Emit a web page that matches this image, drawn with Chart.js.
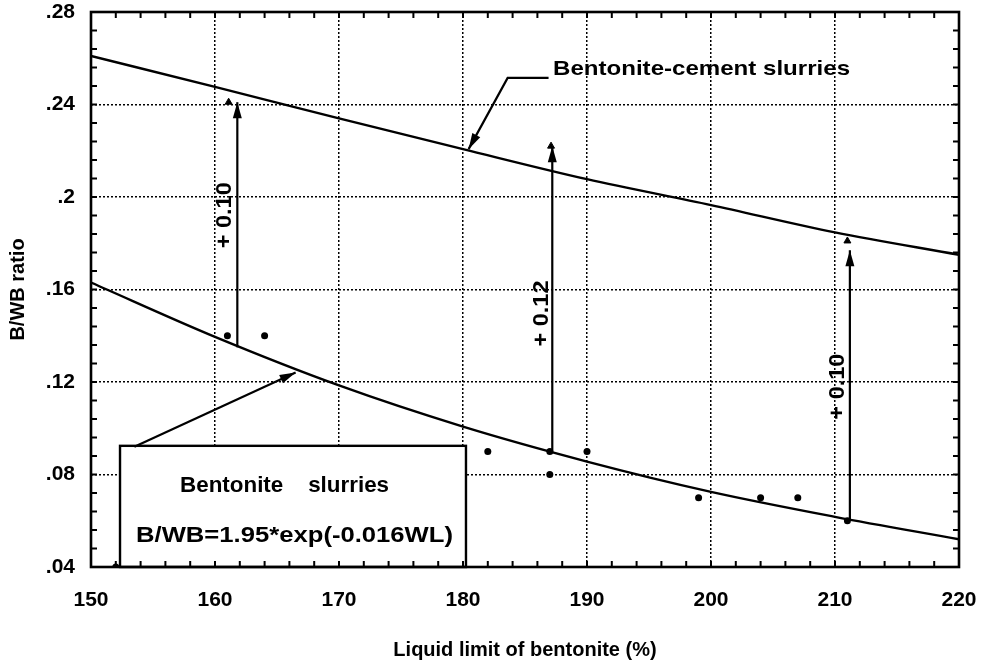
<!DOCTYPE html>
<html><head><meta charset="utf-8">
<script src="https://cdn.jsdelivr.net/npm/chart.js@4.4.1/dist/chart.umd.min.js"></script>
<style>html,body{margin:0;padding:0;background:#fff}</style>
</head><body>
<canvas id="c" width="986" height="663"></canvas>
<script>
// ---- data ----
const xTickValues = [150,160,170,180,190,200,210,220];
const xTickLabels = ['150','160','170','180','190','200','210','220'];
const yTickValues = [0.04,0.08,0.12,0.16,0.20,0.24,0.28];
const yTickLabels = ['.04','.08','.12','.16','.2','.24','.28'];

const curveLL = [150,160,170,180,190,200,210,220];
const cementSlurry = [0.261,0.2476,0.234,0.2207,0.2077,0.1965,0.1847,0.175];
const bentoniteSlurry = [0.163,0.1395,0.1185,0.1007,0.0856,0.0725,0.0617,0.052];

const measuredLL  = [152,161,164,182,187,187,190,199,204,207,211];
const measuredBWB = [0.04,0.14,0.14,0.09,0.09,0.08,0.09,0.07,0.07,0.07,0.06];

const cementLL  = [161.1,187.1,211.0];
const cementBWB = [0.241,0.222,0.181];

const shiftLL   = [161.8,187.2,211.2];
const shiftFrom = [0.135,0.09,0.06];
const shiftTo   = [0.241,0.222,0.177];
const shiftText = ['+ 0.10','+ 0.12','+ 0.10'];
const shiftTextLL  = [160.8,186.4,210.2];
const shiftTextBWB = [0.1921,0.1496,0.118];

const cementLeaderLL  = [186.9,183.6,180.45];
const cementLeaderBWB = [0.2515,0.2515,0.2207];
const slurryLeaderLL  = [153.5,166.5];
const slurryLeaderBWB = [0.092,0.1241];

const boxLL  = [152.34,180.24];
const boxBWB = [0.04,0.0924];

const noteText = ['Bentonite-cement slurries','Bentonite    slurries','B/WB=1.95*exp(-0.016WL)'];
const noteLL   = [187.26,157.18,153.63];
const noteBWB  = [0.2528,0.0724,0.0509];

// ---- styles ----
const FONT = '"Liberation Sans", Arial, sans-serif';
const style = {
  noteWidths: [297, 209, 317], noteSizes: [21, 22, 22],
  shiftWidth: 66, shiftSize: 22,
  minorX: 2, minorY: 0.008, tickLen: 6
};

Chart.defaults.font.family = FONT;
Chart.defaults.color = '#000';

const pts = (xs, ys) => xs.map((x, i) => ({x, y: ys[i]}));
const lineDs = (label, xs, ys, extra) => Object.assign({
  label, data: pts(xs, ys), showLine: true, borderColor: '#000', backgroundColor: '#000',
  borderWidth: 2.4, pointRadius: 0, fill: false
}, extra || {});

const datasets = [
  lineDs('Bentonite-cement slurries', curveLL, cementSlurry, {cubicInterpolationMode: 'monotone'}),
  lineDs('Bentonite slurries', curveLL, bentoniteSlurry, {cubicInterpolationMode: 'monotone'}),
  {label: 'measured', data: pts(measuredLL, measuredBWB), showLine: false, pointRadius: 3.5,
   pointBackgroundColor: '#000', pointBorderWidth: 0},
  {label: 'cement', data: pts(cementLL, cementBWB), showLine: false, pointStyle: 'triangle',
   pointRadius: 4, pointBackgroundColor: '#000', pointBorderColor: '#000', pointBorderWidth: 1},
];
shiftLL.forEach((x, i) => datasets.push(lineDs('shift' + i, [x, x], [shiftFrom[i], shiftTo[i]], {arrow: true, borderWidth: 2.2})));
datasets.push(lineDs('leaderCement', cementLeaderLL, cementLeaderBWB, {arrow: true, borderWidth: 2.2}));
datasets.push(lineDs('leaderSlurry', slurryLeaderLL, slurryLeaderBWB, {arrow: true, borderWidth: 2.2}));

function fitText(ctx, txt, px, py, width, size, rot, align, base) {
  ctx.save();
  ctx.font = 'bold ' + size + 'px ' + FONT;
  const m = ctx.measureText(txt).width;
  ctx.translate(px, py);
  if (rot) ctx.rotate(rot);
  ctx.scale(width / m, 1);
  ctx.textAlign = align; ctx.textBaseline = base;
  ctx.fillStyle = '#000';
  ctx.fillText(txt, 0, 0);
  ctx.restore();
}

const decor = {
  id: 'decor',
  beforeDatasetsDraw(chart) {
    const {ctx, scales: {x, y}} = chart;
    const l = x.getPixelForValue(boxLL[0]), r = x.getPixelForValue(boxLL[1]);
    const t = y.getPixelForValue(boxBWB[1]), b = y.getPixelForValue(boxBWB[0]);
    ctx.save();
    ctx.fillStyle = '#fff'; ctx.fillRect(l, t, r - l, b - t);
    ctx.strokeStyle = '#000'; ctx.lineWidth = 2.4; ctx.strokeRect(l, t, r - l, b - t);
    ctx.restore();
  },
  afterDatasetsDraw(chart) {
    const {ctx, scales: {x, y}} = chart;
    chart.data.datasets.forEach((ds, i) => {
      if (!ds.arrow) return;
      const d = chart.getDatasetMeta(i).data;
      const p1 = d[d.length - 2], p2 = d[d.length - 1];
      const a = Math.atan2(p2.y - p1.y, p2.x - p1.x);
      ctx.save(); ctx.translate(p2.x, p2.y); ctx.rotate(a);
      ctx.beginPath(); ctx.moveTo(0, 0); ctx.lineTo(-16, 4.5); ctx.lineTo(-16, -4.5); ctx.closePath();
      ctx.fillStyle = '#000'; ctx.fill(); ctx.restore();
    });
    noteText.forEach((t, i) => fitText(ctx, t, x.getPixelForValue(noteLL[i]), y.getPixelForValue(noteBWB[i]),
      style.noteWidths[i], style.noteSizes[i], 0, 'left', 'alphabetic'));
    shiftText.forEach((t, i) => fitText(ctx, t, x.getPixelForValue(shiftTextLL[i]), y.getPixelForValue(shiftTextBWB[i]),
      style.shiftWidth, style.shiftSize, -Math.PI / 2, 'center', 'middle'));
  },
  afterDraw(chart) {
    const {ctx, chartArea: ca, scales: {x, y}} = chart;
    ctx.save();
    ctx.strokeStyle = '#000'; ctx.lineWidth = 2;
    ctx.beginPath();
    const nx = Math.round((x.max - x.min) / style.minorX);
    for (let k = 0; k <= nx; k++) {
      const px = x.getPixelForValue(x.min + k * style.minorX);
      ctx.moveTo(px, ca.bottom); ctx.lineTo(px, ca.bottom - style.tickLen);
      ctx.moveTo(px, ca.top); ctx.lineTo(px, ca.top + style.tickLen);
    }
    const ny = Math.round((y.max - y.min) / style.minorY);
    for (let k = 0; k <= ny; k++) {
      const py = y.getPixelForValue(y.min + k * style.minorY);
      ctx.moveTo(ca.left, py); ctx.lineTo(ca.left + style.tickLen, py);
      ctx.moveTo(ca.right, py); ctx.lineTo(ca.right - style.tickLen, py);
    }
    ctx.stroke();
    ctx.lineWidth = 2.6;
    ctx.strokeRect(ca.left, ca.top, ca.right - ca.left, ca.bottom - ca.top);
    ctx.restore();
  }
};

const idx = (arr, v) => arr.findIndex(a => Math.abs(a - v) < 1e-9);

new Chart(document.getElementById('c'), {
  type: 'scatter',
  data: {datasets},
  plugins: [decor],
  options: {
    responsive: false, animation: false, devicePixelRatio: 1,
    layout: {padding: {left: 0, top: 12, right: 27, bottom: 0}},
    plugins: {legend: {display: false}, tooltip: {enabled: false}},
    scales: {
      x: {
        type: 'linear', min: 150, max: 220,
        afterBuildTicks: s => { s.ticks = xTickValues.map(v => ({value: v})); },
        afterFit: s => { s.height = 96; s.paddingLeft = 0; s.paddingRight = 0; },
        ticks: {callback: v => xTickLabels[idx(xTickValues, v)], font: {size: 21, weight: 'bold'}, padding: 21,
                maxRotation: 0, autoSkip: false, color: '#000'},
        grid: {color: '#000', lineWidth: 1.5, drawTicks: false},
        border: {display: false, dash: [2, 2]},
        title: {display: true, text: 'Liquid limit of bentonite (%)', font: {size: 20, weight: 'bold'}, padding: {top: 0, bottom: 1}, color: '#000'}
      },
      y: {
        type: 'linear', min: 0.04, max: 0.28,
        afterBuildTicks: s => { s.ticks = yTickValues.map(v => ({value: v})); },
        afterFit: s => { s.width = 91; s.paddingTop = 0; s.paddingBottom = 0; },
        ticks: {callback: v => yTickLabels[idx(yTickValues, v)], font: {size: 21, weight: 'bold'}, padding: 16,
                autoSkip: false, color: '#000'},
        grid: {color: '#000', lineWidth: 1.5, drawTicks: false},
        border: {display: false, dash: [2, 2]},
        title: {display: true, text: 'B/WB ratio', font: {size: 20, weight: 'bold'}, padding: {top: 6, bottom: 6}, color: '#000'}
      }
    }
  }
});
</script>
</body></html>
